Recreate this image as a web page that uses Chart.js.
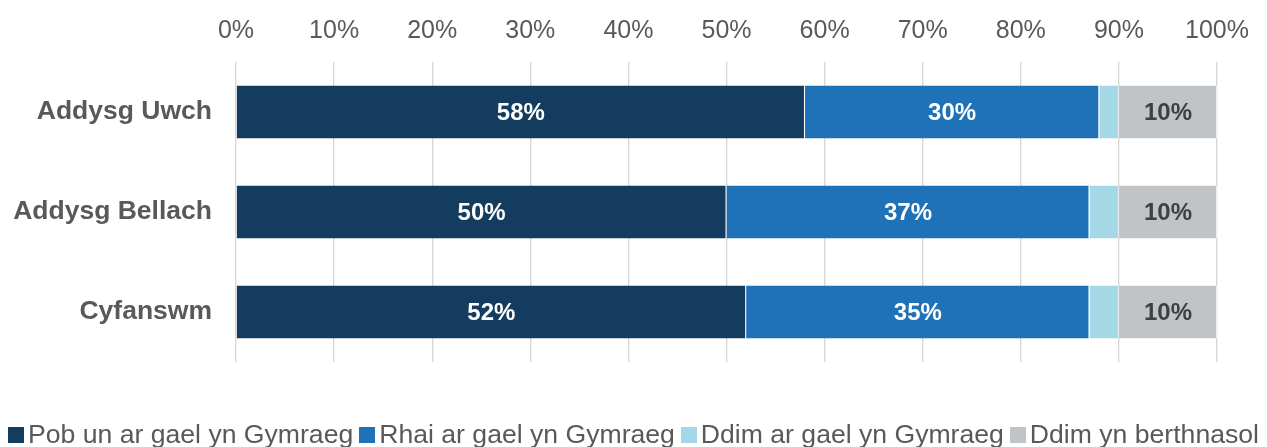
<!DOCTYPE html>
<html>
<head>
<meta charset="utf-8">
<script src="https://cdn.jsdelivr.net/npm/chart.js@4"></script>
<style>
  body { margin: 0; background: #fff; }
  #wrap { position: relative; width: 1267px; height: 447px; }
  #legend {
    position: absolute; left: 0; right: 0; top: 419px;
    display: flex; justify-content: center; white-space: nowrap;
    font-family: "Liberation Sans", Arial, sans-serif; font-size: 26.6px; color: #595959;
  }
  #legend span.item { display: flex; align-items: center; margin: 0 3px; }
  #legend span.box { display: inline-block; width: 16px; height: 16px; margin-right: 4px; }
</style>
</head>
<body>
<div id="wrap">
  <canvas id="bar-chart" width="1267" height="447"></canvas>
  <div id="legend"></div>
</div>
<script>
// categories and series (percent)
var categories = ['Addysg Uwch', 'Addysg Bellach', 'Cyfanswm'];
var seriesNames = ['Pob un ar gael yn Gymraeg', 'Rhai ar gael yn Gymraeg', 'Ddim ar gael yn Gymraeg', 'Ddim yn berthnasol'];
var pobUn = [58, 50, 52];
var rhai = [30, 37, 35];
var ddimArGael = [2, 3, 3];
var ddimBerthnasol = [10, 10, 10];
var xTicks = [0, 10, 20, 30, 40, 50, 60, 70, 80, 90, 100];

var colors = ['#133c5e', '#1f71b8', '#a5d8e6', '#c0c4c7'];
var labelColors = ['#ffffff', '#ffffff', null, '#404040'];
var FONT = '"Liberation Sans", Arial, sans-serif';

// draw value labels in the middle of each segment
var barLabels = {
    id: 'barLabels',
    afterDatasetsDraw: function(chart) {
        var ctx = chart.ctx;
        ctx.save();
        ctx.font = 'bold 24px ' + FONT;
        ctx.textAlign = 'center';
        ctx.textBaseline = 'middle';
        chart.data.datasets.forEach(function(ds, i) {
            if (!labelColors[i]) return;
            ctx.fillStyle = labelColors[i];
            chart.getDatasetMeta(i).data.forEach(function(bar, j) {
                var cx = (bar.x + bar.base) / 2;
                ctx.fillText(ds.data[j] + '%', cx, bar.y + 1);
            });
        });
        ctx.restore();
    }
};

const ctx = document.getElementById('bar-chart').getContext('2d');
var chart = new Chart(ctx, {
    type: 'bar',
    data: {
        labels: categories,
        datasets: [pobUn, rhai, ddimArGael, ddimBerthnasol].map(function(d, i) {
            return {
                label: seriesNames[i],
                data: d,
                backgroundColor: colors[i],
                borderColor: 'rgba(255,255,255,0.6)',
                borderWidth: {left: 0, right: 1, top: 0, bottom: 0},
                borderSkipped: false,
                barPercentage: 0.53,
                categoryPercentage: 1,
            };
        }),
    },
    plugins: [barLabels],
    options: {
        responsive: false,
        animation: false,
        indexAxis: 'y',
        layout: { padding: { left: 0, right: 50, top: 0, bottom: 85 } },
        plugins: {
            legend: { display: false },
            tooltip: { enabled: false },
        },
        scales: {
            x: {
                position: 'top',
                stacked: true,
                min: 0,
                max: 100,
                afterBuildTicks: function(scale) {
                    scale.ticks = xTicks.map(function(v) { return {value: v}; });
                },
                afterFit: function(scale) { scale.height = 62; },
                grid: { color: '#d6d6d6', lineWidth: 1.3, drawTicks: false },
                border: { display: false },
                ticks: {
                    padding: 16,
                    color: '#595959',
                    font: { family: FONT, size: 25 },
                    callback: function(value) { return value + '%'; }
                }
            },
            y: {
                stacked: true,
                afterFit: function(scale) { scale.width = 236; },
                grid: { display: false },
                border: { display: false },
                ticks: {
                    padding: 16,
                    color: '#595959',
                    font: { family: FONT, size: 26.5, weight: 'bold' }
                }
            }
        },
    },
});

// legend built from the chart datasets
var legend = document.getElementById('legend');
chart.data.datasets.forEach(function(ds) {
    var item = document.createElement('span');
    item.className = 'item';
    var box = document.createElement('span');
    box.className = 'box';
    box.style.background = ds.backgroundColor;
    item.appendChild(box);
    item.appendChild(document.createTextNode(ds.label));
    legend.appendChild(item);
});
</script>
</body>
</html>
